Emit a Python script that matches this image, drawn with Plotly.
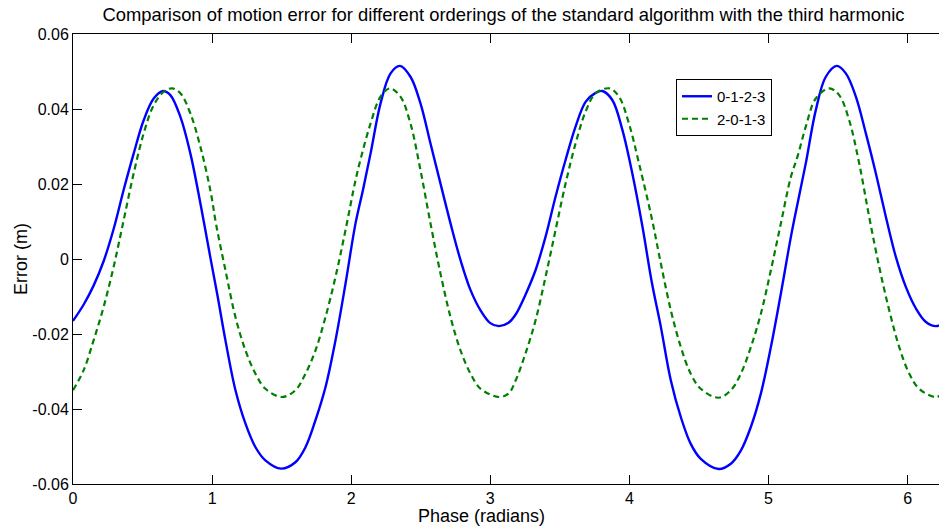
import plotly.graph_objects as go

# ---- data ----
phase_a = [0.0, 0.076, 0.148, 0.22, 0.292, 0.364, 0.436, 0.508, 0.58, 0.647, 0.70, 0.772, 0.844, 0.916,
           0.987, 1.04, 1.096, 1.168, 1.24, 1.312, 1.383, 1.496, 1.599, 1.671, 1.743, 1.815, 1.887,
           1.959, 2.031, 2.085, 2.139, 2.211, 2.283, 2.35, 2.426, 2.498, 2.57, 2.642, 2.714, 2.786,
           2.858, 2.93, 3.0, 3.062, 3.131, 3.182, 3.253, 3.325, 3.397, 3.469, 3.541, 3.613, 3.685,
           3.757, 3.805, 3.877, 3.949, 4.021, 4.094, 4.16, 4.226, 4.298, 4.37, 4.441, 4.513, 4.641,
           4.729, 4.801, 4.873, 4.945, 5.017, 5.089, 5.161, 5.21, 5.268, 5.34, 5.412, 5.491, 5.556,
           5.628, 5.70, 5.772, 5.844, 5.916, 5.988, 6.06, 6.132, 6.204, 6.283]
error_a = [-0.0165, -0.0122, -0.0071, -0.0006, 0.0080, 0.0184, 0.0281, 0.0370, 0.0428, 0.0448, 0.0437,
           0.0379, 0.0281, 0.0148, 0.0005, -0.0100, -0.0217, -0.0350, -0.0439, -0.0502, -0.0537,
           -0.0559, -0.0542, -0.0502, -0.0430, -0.0342, -0.0217, -0.0066, 0.0095, 0.0185, 0.0281,
           0.0415, 0.0495, 0.0515, 0.0486, 0.0415, 0.0308, 0.0201, 0.0095, -0.0003, -0.0083, -0.0137,
           -0.0171, -0.0179, -0.0170, -0.0148, -0.0095, -0.0030, 0.0059, 0.0166, 0.0264, 0.0353,
           0.0419, 0.0443, 0.0448, 0.0424, 0.0345, 0.0228, 0.0086, -0.0060, -0.0181, -0.0324, -0.0422,
           -0.0493, -0.0533, -0.0560, -0.0546, -0.0511, -0.0448, -0.0359, -0.0235, -0.0092, 0.0059,
           0.0150, 0.0255, 0.0397, 0.0486, 0.0515, 0.0495, 0.0433, 0.0335, 0.0228, 0.0112, 0.0005,
           -0.0075, -0.0132, -0.0168, -0.0179, -0.0166]

phase_b = [0.0, 0.076, 0.148, 0.22, 0.292, 0.364, 0.436, 0.508, 0.58, 0.652, 0.712, 0.772, 0.844, 0.916,
           0.987, 1.03, 1.096, 1.168, 1.24, 1.312, 1.383, 1.503, 1.599, 1.671, 1.743, 1.815, 1.887,
           1.959, 2.031, 2.07, 2.139, 2.211, 2.278, 2.354, 2.426, 2.498, 2.57, 2.642, 2.714, 2.786,
           2.858, 2.93, 3.062, 3.131, 3.182, 3.253, 3.325, 3.397, 3.469, 3.541, 3.613, 3.685, 3.757,
           3.857, 3.925, 3.997, 4.069, 4.16, 4.226, 4.298, 4.37, 4.441, 4.513, 4.641, 4.729, 4.801,
           4.873, 4.945, 5.017, 5.089, 5.161, 5.21, 5.268, 5.34, 5.436, 5.508, 5.58, 5.652, 5.724,
           5.796, 5.868, 5.94, 6.012, 6.083, 6.204, 6.283]
error_b = [-0.0350, -0.0297, -0.0217, -0.0128, -0.0021, 0.0103, 0.0228, 0.0335, 0.0410, 0.0446, 0.0455,
           0.0442, 0.0388, 0.0299, 0.0184, 0.0090, -0.0030, -0.0155, -0.0244, -0.0306, -0.0346,
           -0.0368, -0.0350, -0.0306, -0.0244, -0.0155, -0.0048, 0.0077, 0.0210, 0.0270, 0.0361,
           0.0433, 0.0455, 0.0433, 0.0361, 0.0237, 0.0095, -0.0039, -0.0155, -0.0244, -0.0306,
           -0.0346, -0.0368, -0.0359, -0.0324, -0.0252, -0.0164, -0.0048, 0.0077, 0.0201, 0.0308,
           0.0393, 0.0442, 0.0455, 0.0433, 0.0361, 0.0255, 0.0110, -0.0012, -0.0137, -0.0235, -0.0306,
           -0.0346, -0.0370, -0.0350, -0.0306, -0.0235, -0.0146, -0.0030, 0.0095, 0.0219, 0.0275,
           0.0353, 0.0428, 0.0455, 0.0437, 0.0370, 0.0255, 0.0112, -0.0021, -0.0137, -0.0235, -0.0306,
           -0.0346, -0.0368, -0.0352]

series_names = ["0-1-2-3", "2-0-1-3"]
x_ticks = [0, 1, 2, 3, 4, 5, 6]
x_tick_labels = ["0", "1", "2", "3", "4", "5", "6"]
y_ticks = [-0.06, -0.04, -0.02, 0, 0.02, 0.04, 0.06]
y_tick_labels = ["-0.06", "-0.04", "-0.02", "0", "0.02", "0.04", "0.06"]

title_text = "Comparison of motion error for different orderings of the standard algorithm with the third harmonic"
x_label = "Phase (radians)"
y_label = "Error (m)"

FONT = "Liberation Sans, Arial, Helvetica, sans-serif"

fig = go.Figure()
fig.add_trace(go.Scatter(x=phase_a, y=error_a, mode="lines", name=series_names[0],
                         line=dict(color="rgb(0,0,255)", width=2.4, shape="spline", smoothing=1.0)))
fig.add_trace(go.Scatter(x=phase_b, y=error_b, mode="lines", name=series_names[1],
                         line=dict(color="rgb(0,128,0)", width=2.2, dash="6px,4px", shape="spline",
                                   smoothing=1.0)))

fig.update_layout(
    width=939, height=526,
    margin=dict(l=73, r=0, t=34, b=42, pad=0),
    paper_bgcolor="white", plot_bgcolor="white",
    font=dict(family=FONT, size=16, color="black"),
    title=dict(text=title_text, x=503.5 / 939, xanchor="center", xref="container",
               y=1 - 15 / 526, yanchor="middle", yref="container",
               font=dict(family=FONT, size=18.4, color="black")),
    showlegend=True,
    legend=dict(x=(676 - 73) / 866, y=(484 - 79) / 450, xanchor="left", yanchor="top",
                bgcolor="white", bordercolor="black", borderwidth=1,
                font=dict(family=FONT, size=15, color="black"),
                itemwidth=30, tracegroupgap=0),
    xaxis=dict(range=[0, 866 / 139.1], tickmode="array", tickvals=x_ticks, ticktext=x_tick_labels,
               ticks="inside", ticklen=9, tickcolor="black", tickwidth=1,
               showline=True, linecolor="black", linewidth=1, mirror="ticks",
               showgrid=False, zeroline=False,
               tickfont=dict(family=FONT, size=16, color="black")),
    yaxis=dict(range=[-0.06, 0.06], tickmode="array", tickvals=y_ticks, ticktext=y_tick_labels,
               ticks="inside", ticklen=9, tickcolor="black", tickwidth=1,
               showline=True, linecolor="black", linewidth=1, mirror=False,
               showgrid=False, zeroline=False,
               tickfont=dict(family=FONT, size=16, color="black")),
    annotations=[
        dict(text=x_label, xref="paper", yref="paper", x=(481 - 73) / 866, y=0, yshift=-32,
             xanchor="center", yanchor="middle", showarrow=False,
             font=dict(family=FONT, size=18, color="black")),
        dict(text=y_label, xref="paper", yref="paper", x=0, xshift=21 - 73, y=0.5,
             xanchor="center", yanchor="middle", textangle=-90, showarrow=False,
             font=dict(family=FONT, size=18, color="black")),
    ],
)

fig.write_html("out.html",
               config={"displayModeBar": False},
               post_script="document.body.style.margin='0';document.body.style.overflow='hidden';")
